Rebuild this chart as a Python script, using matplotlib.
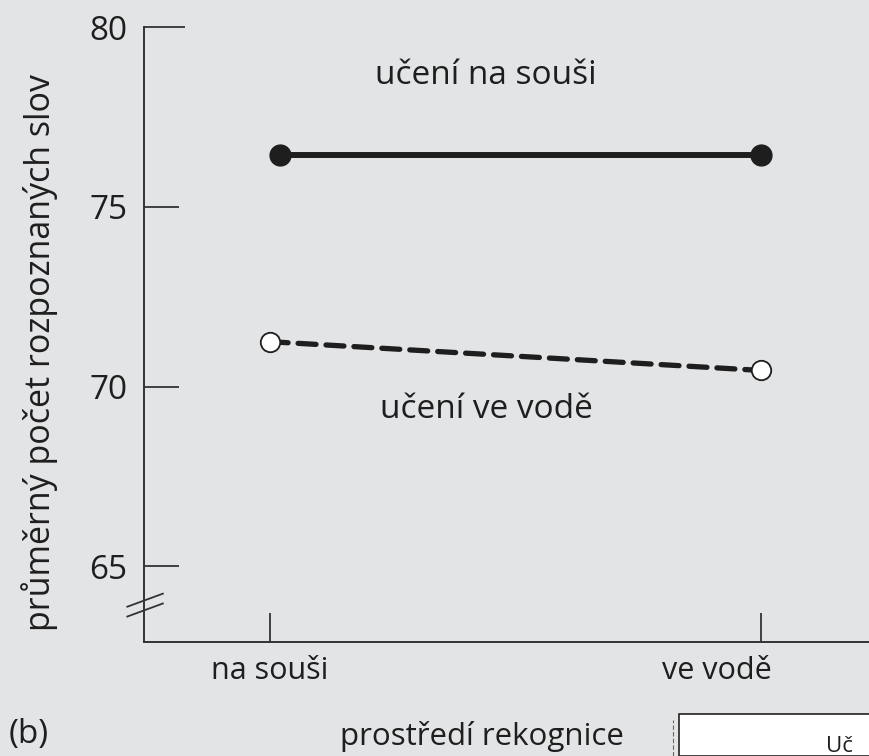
import matplotlib
matplotlib.use('Agg')
import matplotlib.pyplot as plt
from matplotlib.patches import Rectangle
from matplotlib.transforms import ScaledTranslation

plt.rcParams['font.family'] = ['Open Sans', 'DejaVu Sans']

# Data
conditions = ['na souši', 've vodě']
learn_land = [76.45, 76.45]    # učení na souši
learn_water = [71.25, 70.45]   # učení ve vodě
y_ticks = [65, 70, 75]
y_top = 80

bg = '#e3e4e6'
ink = '#1e1e1e'
axc = '#333333'

fig = plt.figure(figsize=(8.69, 7.56), dpi=100, facecolor=bg)
ax = fig.add_axes([144 / 869, 1 - 642 / 756, 1 - 144 / 869, (642 - 27) / 756])
ax.set_facecolor(bg)

x = list(range(len(conditions)))

ax.plot([xi + (0.02 if i == 0 else 0) for i, xi in enumerate(x)], learn_land,
        color=ink, lw=4.3, marker='o', markersize=15, solid_capstyle='round',
        markerfacecolor=ink, markeredgecolor=ink, clip_on=False, zorder=3)
ax.plot(x, learn_water, color=ink, lw=3.8, ls=(0, (3.4, 1.9)), dash_capstyle='round',
        marker='o', markersize=14, markerfacecolor='white', markeredgecolor=ink,
        markeredgewidth=1.3, clip_on=False, zorder=3)

ax.set_xlim(-0.257, 1.22)
ax.set_ylim(62.9, 80)

for s in ['top', 'right']:
    ax.spines[s].set_visible(False)
for s in ['left', 'bottom']:
    ax.spines[s].set_linewidth(1.4)
    ax.spines[s].set_color(axc)

ax.set_xticks(x)
ax.set_xticklabels(conditions, fontsize=22, color=ink)
ax.set_yticks(y_ticks)
ax.set_yticklabels([str(v) for v in y_ticks], fontsize=24, color=ink)
ax.set_yticks([y_top], minor=True)
ax.set_yticklabels([str(y_top)], minor=True, fontsize=24, color=ink)

ax.tick_params(axis='y', which='major', direction='in', length=25, width=1.3,
               color=axc, pad=12)
ax.tick_params(axis='y', which='minor', direction='in', length=29.5, width=1.3,
               color=axc, pad=12)
ax.tick_params(axis='x', direction='in', length=21, width=1.3, color=axc, pad=10)

# the "ve vodě" label sits left of its tick in the original
lbl = ax.get_xticklabels()[1]
lbl.set_transform(lbl.get_transform() + ScaledTranslation(-0.44, 0, fig.dpi_scale_trans))

# axis break marks on the y axis
for yy in (0.052, 0.068):
    ax.plot([-0.023, 0.026], [yy - 0.0106, yy + 0.0106], transform=ax.transAxes,
            color=axc, lw=1.3, clip_on=False)

ax.set_ylabel('průměrný počet rozpoznaných slov', fontsize=24.5, color=ink)
ax.yaxis.set_label_coords(-0.119, 0.4715)

ax.text(0.44, 78.65, 'učení na souši', fontsize=24, color=ink, ha='center', va='center')
ax.text(0.44, 69.37, 'učení ve vodě', fontsize=24, color=ink, ha='center', va='center')

fig.text(482 / 869, 1 - 737 / 756, 'prostředí rekognice', fontsize=22.5, color=ink,
         ha='center', va='center')
fig.text(9 / 869, 1 - 735 / 756, '(b)', fontsize=24, color=ink, ha='left', va='center')

# partial white box at the lower right
fig.patches.append(Rectangle((679 / 869, 0), 1 - 679 / 869 + 0.01, 42 / 756,
                             transform=fig.transFigure, facecolor='white',
                             edgecolor='#222222', lw=1.2, zorder=5))
fig.lines.append(plt.Line2D([673 / 869, 673 / 869], [0, 36 / 756], transform=fig.transFigure,
                            color='#666666', lw=0.8, ls=(0, (4, 2))))
fig.text(826 / 869, 1 - 736 / 756, 'Uč', fontsize=16, color=ink, ha='left', va='top',
         zorder=6)

fig.savefig('out.png', dpi=100, facecolor=bg)
